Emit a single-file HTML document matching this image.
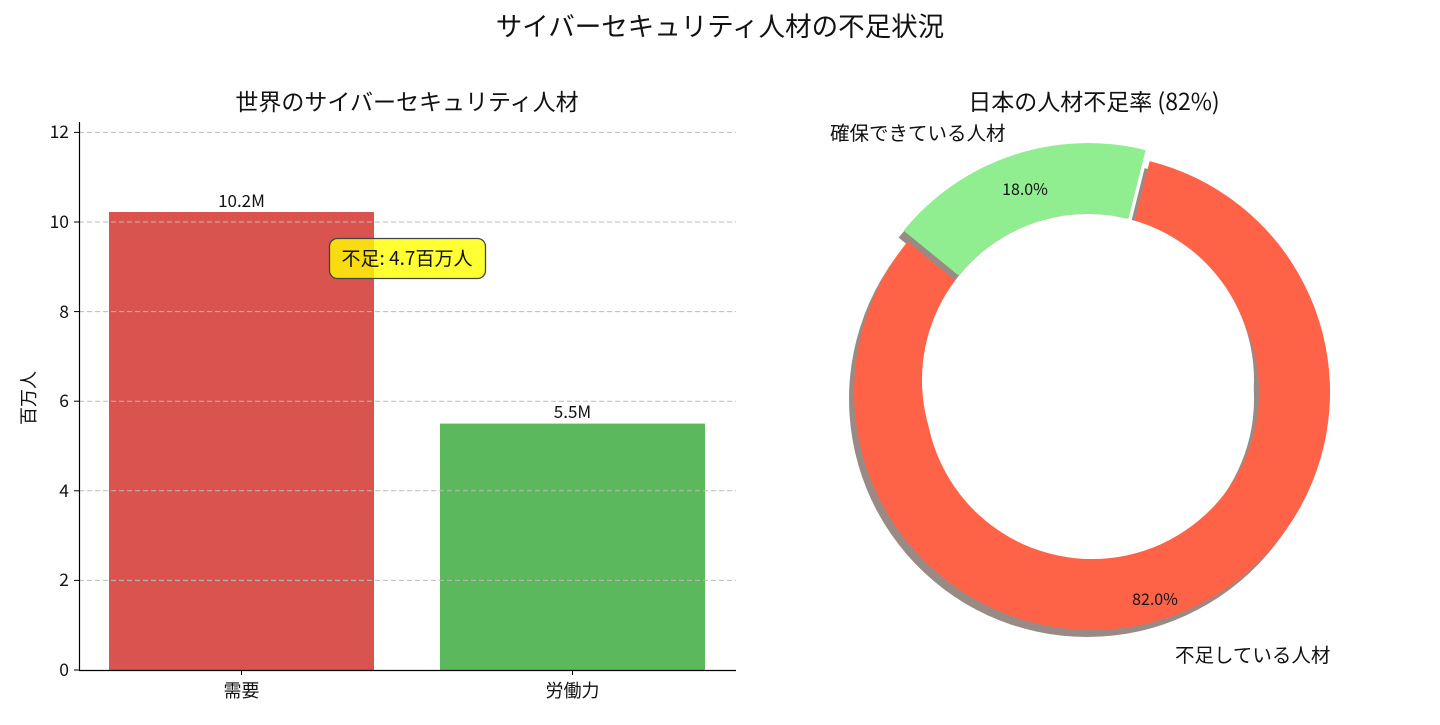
<!DOCTYPE html>
<html><head><meta charset="utf-8"><style>
body{margin:0;background:#fff;}
svg text{font-family:"Noto Sans CJK JP","Liberation Sans",sans-serif;fill:#111;}
</style></head><body>
<svg width="1440" height="720" viewBox="0 0 1440 720" xmlns="http://www.w3.org/2000/svg">
<text x="720" y="36" font-size="26.5" text-anchor="middle">サイバーセキュリティ人材の不足状況</text>
<text x="407" y="110" font-size="23" text-anchor="middle">世界のサイバーセキュリティ人材</text>
<rect x="109" y="212" width="265" height="458" fill="#d9534f"/>
<rect x="440" y="423.6" width="265" height="246.4" fill="#5cb85c"/>
<g stroke="#bbb" stroke-dasharray="5,3" stroke-width="1">
<line x1="79" x2="736" y1="580.4" y2="580.4"/><line x1="79" x2="736" y1="490.8" y2="490.8"/>
<line x1="79" x2="736" y1="401.2" y2="401.2"/><line x1="79" x2="736" y1="311.6" y2="311.6"/>
<line x1="79" x2="736" y1="222" y2="222"/><line x1="79" x2="736" y1="132.4" y2="132.4"/>
</g>
<line x1="79.5" y1="122" x2="79.5" y2="670" stroke="#000" stroke-width="1.2"/>
<line x1="79" y1="670.5" x2="736" y2="670.5" stroke="#000" stroke-width="1.2"/>
<g stroke="#000"><line x1="74" x2="79" y1="670" y2="670"/><line x1="74" x2="79" y1="580.4" y2="580.4"/><line x1="74" x2="79" y1="490.8" y2="490.8"/><line x1="74" x2="79" y1="401.2" y2="401.2"/><line x1="74" x2="79" y1="311.6" y2="311.6"/><line x1="74" x2="79" y1="222" y2="222"/><line x1="74" x2="79" y1="132.4" y2="132.4"/>
<line x1="241.5" x2="241.5" y1="670" y2="675"/><line x1="572.5" x2="572.5" y1="670" y2="675"/></g>
<g font-size="17.5" text-anchor="end">
<text x="69" y="676">0</text><text x="69" y="586">2</text><text x="69" y="497">4</text><text x="69" y="407">6</text><text x="69" y="318">8</text><text x="69" y="228">10</text><text x="69" y="138">12</text>
</g>
<text x="241.5" y="697" font-size="18" text-anchor="middle">需要</text>
<text x="572.5" y="697" font-size="18" text-anchor="middle">労働力</text>
<text transform="translate(35,398) rotate(-90)" font-size="18" text-anchor="middle">百万人</text>
<text x="241.5" y="207" font-size="17" text-anchor="middle">10.2M</text>
<text x="572.5" y="418" font-size="17" text-anchor="middle">5.5M</text>
<rect x="329.5" y="238.5" width="156" height="40" rx="8" fill="rgba(255,255,0,0.8)" stroke="#444" stroke-width="1.3"/>
<text x="407" y="265" font-size="19" text-anchor="middle">不足: 4.7百万人</text>
<text x="1094" y="110" font-size="23" text-anchor="middle">日本の人材不足率 (82%)</text>
<g transform="translate(-5,7)" fill="#9a8a86">
<path d="M1145.6,150.1 A238,238 0 0 0 903.6,230.6 L958.6,275.5 A167,167 0 0 1 1128.4,219.0 Z"/>
<path d="M907.6,241.6 A238,238 0 1 0 1149.6,161.1 L1132.4,230.0 A167,167 0 1 1 962.6,286.5 Z"/>
</g>
<path d="M1145.6,150.1 A238,238 0 0 0 903.6,230.6 L958.6,275.5 A167,167 0 0 1 1128.4,219.0 Z" fill="#90ee90"/>
<path d="M907.6,241.6 A238,238 0 1 0 1149.6,161.1 L1132.4,230.0 A167,167 0 1 1 962.6,286.5 Z" fill="#ff6347"/>
<circle cx="1088" cy="380" r="166" fill="#fff"/>
<text x="1025" y="195" font-size="16" text-anchor="middle">18.0%</text>
<text x="1155" y="605" font-size="16" text-anchor="middle">82.0%</text>
<text x="830" y="140" font-size="19.5">確保できている人材</text>
<text x="1175" y="662" font-size="19.5">不足している人材</text>
</svg>
</body></html>
